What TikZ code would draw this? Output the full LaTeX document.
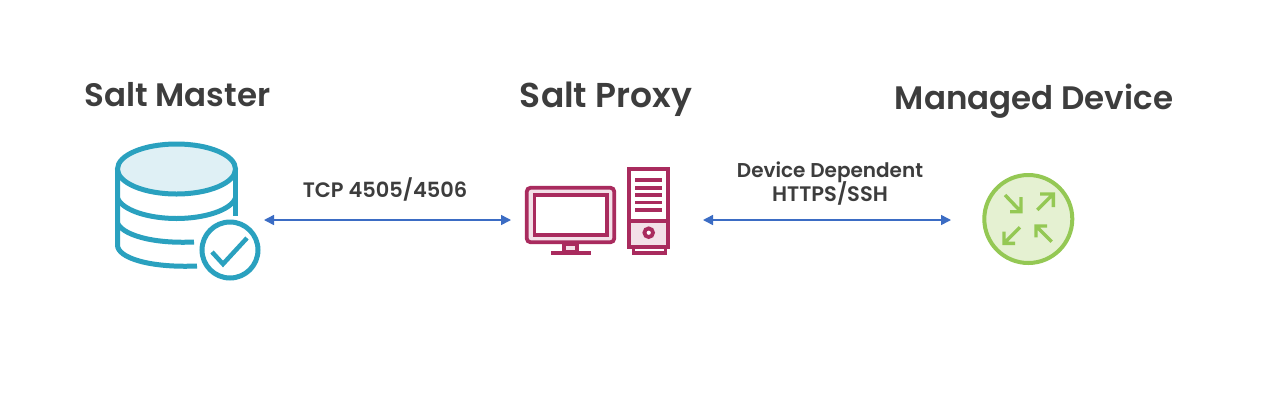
\documentclass[tikz,border=0pt]{standalone}
\usepackage{fontspec}
\setmainfont{Poppins SemiBold}
\usetikzlibrary{arrows.meta}
\definecolor{txt}{HTML}{3D3D3D}
\definecolor{teal}{HTML}{2AA1BF}
\definecolor{teallight}{HTML}{DFF0F5}
\definecolor{wine}{HTML}{A92B5E}
\definecolor{winelight}{HTML}{F3E0E8}
\definecolor{leaf}{HTML}{94C854}
\definecolor{leaflight}{HTML}{E5F1D2}
\definecolor{link}{HTML}{3B6CC4}
\tikzset{
  heading/.style={font=\fontsize{32.5}{36}\selectfont, text=txt, inner sep=0pt, anchor=base},
  linklabel/.style={font=\fontsize{20}{24}\selectfont, text=txt, inner sep=0pt, anchor=base},
  spot/.style={minimum height=20pt, inner sep=0pt, outer sep=0pt},
  linkline/.style={draw=link, line width=1.5pt, {Triangle[length=10pt,width=10pt]}-{Triangle[length=10pt,width=10pt]}},
  dbline/.style={draw=teal, line width=5pt},
  pcline/.style={draw=wine, line width=3.8pt},
  arrowline/.style={draw=leaf, line width=3.4pt},
}
\begin{document}
\begin{tikzpicture}[x=1pt,y=-1pt]
\useasboundingbox[fill=white] (0,0) rectangle (1280,416);
% database
\draw[dbline] (117.5,169) -- (117.5,245) .. controls (117.5,258) and (150,268) .. (197,266);
\draw[dbline] (235.5,169) -- (235.5,216);
\draw[dbline] (117.5,198) .. controls (122,210) and (148,218.5) .. (176.5,218.5) .. controls (205,218.5) and (231,210) .. (235.5,198);
\draw[dbline] (117.5,223) .. controls (122,234) and (150,244) .. (194,242);
\draw[dbline,fill=teallight] (176.5,169) ellipse [x radius=59, y radius=25];
\draw[dbline] (230,250) circle (28);
\draw[dbline,line width=4.5pt] (212,252) -- (223,264) -- (247,238);
% computer
\draw[pcline,fill=winelight,rounded corners=4pt] (526.7,187.7) rectangle (614.3,242.3);
\draw[pcline,fill=white] (534.4,194.7) rectangle (607.3,235.3);
\draw[pcline,fill=winelight] (563.7,244) rectangle (577.3,252);
\draw[pcline] (551,253) -- (591,253);
\draw[pcline,fill=white] (628.7,168.7) rectangle (668.3,247.3);
\draw[pcline,fill=winelight] (628.7,221) rectangle (668.3,247.3);
\draw[pcline,fill=white] (648.7,232.7) circle (4.3);
\draw[pcline] (635,180) -- (662,180) (635,187.6) -- (662,187.6) (635,195) -- (662,195) (635,202.4) -- (662,202.4) (635,210) -- (662,210);
\draw[pcline,line width=3.2pt] (633.5,249) -- (633.5,253) -- (665.5,253) -- (665.5,249);
% router
\draw[draw=leaf,line width=4pt,fill=leaflight] (1028.3,219) circle (44);
\draw[arrowline] (1005,195) -- (1021,211.7) (1021,197) -- (1021,211.7) -- (1010,211.7);
\draw[arrowline] (1037.3,210) -- (1053.3,194) (1040,194) -- (1053.3,194) -- (1053.3,207);
\draw[arrowline] (1020,227.3) -- (1004,243.3) (1004,231.7) -- (1004,243.3) -- (1015,243.3);
\draw[arrowline] (1051.7,241.7) -- (1036,226) (1047,226) -- (1036,226) -- (1036,237.3);
% headings
\node[heading] (masterTitle) at (177.5,106) {Salt Master};
\node[heading,font=\fontsize{34.5}{36}\selectfont] (proxyTitle) at (606,107) {Salt Proxy};
\node[heading] (deviceTitle) at (1034,109) {Managed Device};
% labels
\node[linklabel,font=\fontsize{20.9}{24}\selectfont] (tcpLabel) at (385,197) {TCP 4505/4506};
\node[linklabel] (deviceLabelA) at (830,177) {Device Dependent};
\node[linklabel,font=\fontsize{21}{24}\selectfont] (deviceLabelB) at (830,201) {HTTPS/SSH};
% anchors for links
\node[spot,minimum width=149pt] (master) at (189.5,220) {};
\node[spot,minimum width=192pt] (proxy) at (607,220) {};
\node[spot,minimum width=154.6pt] (device) at (1028.3,220) {};
\draw[linkline] (master.east) -- (proxy.west);
\draw[linkline] (proxy.east) -- (device.west);
\end{tikzpicture}
\end{document}
